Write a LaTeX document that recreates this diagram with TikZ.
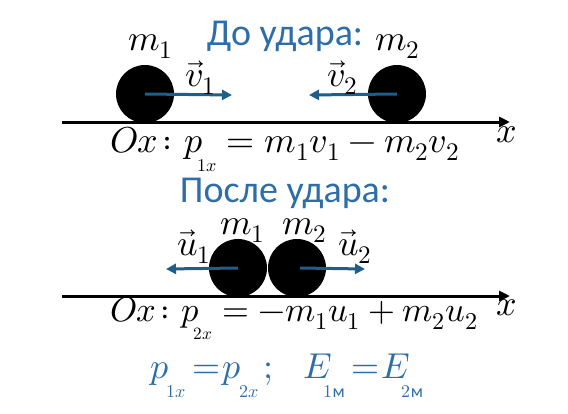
\documentclass[tikz,border=0pt]{standalone}
\usepackage{fontspec}
\usepackage{unicode-math}
\setmainfont{Carlito}
\setmathfont{Latin Modern Math}
\usetikzlibrary{arrows.meta}
\definecolor{titleblue}{HTML}{2E6EA8}
\definecolor{arrowblue}{HTML}{1F5E88}
\newcommand{\lsub}[2][-3mu]{\mkern#1{}_{\raisebox{-0.3em}{$\scriptscriptstyle #2$}}}
\tikzset{
  ball/.style={fill=black,circle,minimum size=58pt,inner sep=0pt},
  axis/.style={line width=3pt,-{Triangle[length=11pt,width=10pt]}},
  vel/.style={line width=3pt,arrowblue,-{Triangle[length=10pt,width=10pt]}},
  title/.style={font=\fontsize{38}{42}\selectfont,text=titleblue,inner sep=0pt,anchor=base},
  lab/.style={font=\fontsize{36}{40}\selectfont,inner sep=0pt,anchor=base west},
  eq/.style={font=\fontsize{36}{40}\selectfont,inner sep=0pt,anchor=base west}
}
\begin{document}
\begin{tikzpicture}[x=1pt,y=-1pt]
\useasboundingbox (0,0) rectangle (568,413);
% before
\node[title] (t1) at (285,45) {До удара:};
\coordinate (a1s) at (62,122);
\coordinate (a1e) at (510,122);
\draw[axis] (a1s) -- (a1e);
\node[ball] (b1) at (145,94) {};
\node[ball] (b2) at (397,94) {};
\coordinate (v1e) at (232,95);
\coordinate (v2e) at (309,95);
\draw[vel] (b1.center) -- (v1e);
\draw[vel] (b2.center) -- (v2e);
\node[lab] (m1) at (128,50) {$m_1$};
\node[lab] (m2) at (375,50) {$m_2$};
\node[lab] (v1) at (185,86) {$\vec{v}_1$};
\node[lab] (v2) at (327,86) {$\vec{v}_2$};
\node[eq] (e1) at (110,152) {$Ox\colon p\lsub{1x}=m_1v_1-m_2v_2$};
\node[lab] (x1) at (496,142) {$x$};
% after
\node[title] (t2) at (285,202) {После удара:};
\coordinate (a2s) at (62,296);
\coordinate (a2e) at (510,296);
\draw[axis] (a2s) -- (a2e);
\node[ball] (c1) at (238,268) {};
\node[ball] (c2) at (297,268) {};
\coordinate (u1e) at (166,269);
\coordinate (u2e) at (365,269);
\draw[vel] (c1.center) -- (u1e);
\draw[vel] ([xshift=3pt]c2.center) -- (u2e);
\node[lab] (n1) at (220,234) {$m_1$};
\node[lab] (n2) at (282,234) {$m_2$};
\node[lab] (u1) at (177,255) {$\vec{u}_1$};
\node[lab] (u2) at (338,255) {$\vec{u}_2$};
\node[eq,font=\fontsize{34.5}{40}\selectfont] (e2) at (110,321) {$Ox\colon p\lsub{2x}=-m_1u_1+m_2u_2$};
\node[lab] (x2) at (496,315) {$x$};
% conservation
\node[eq,text=titleblue] (e3) at (150,378) {$p\lsub[-1mu]{1x}\mkern3mu{=}\mkern1mu p\lsub[-1mu]{2x}\mkern2mu;\mkern12mu E\lsub[-4mu]{1\text{м}}\mkern3mu{=}\mkern1mu E\lsub[-4mu]{2\text{м}}$};
\end{tikzpicture}
\end{document}
